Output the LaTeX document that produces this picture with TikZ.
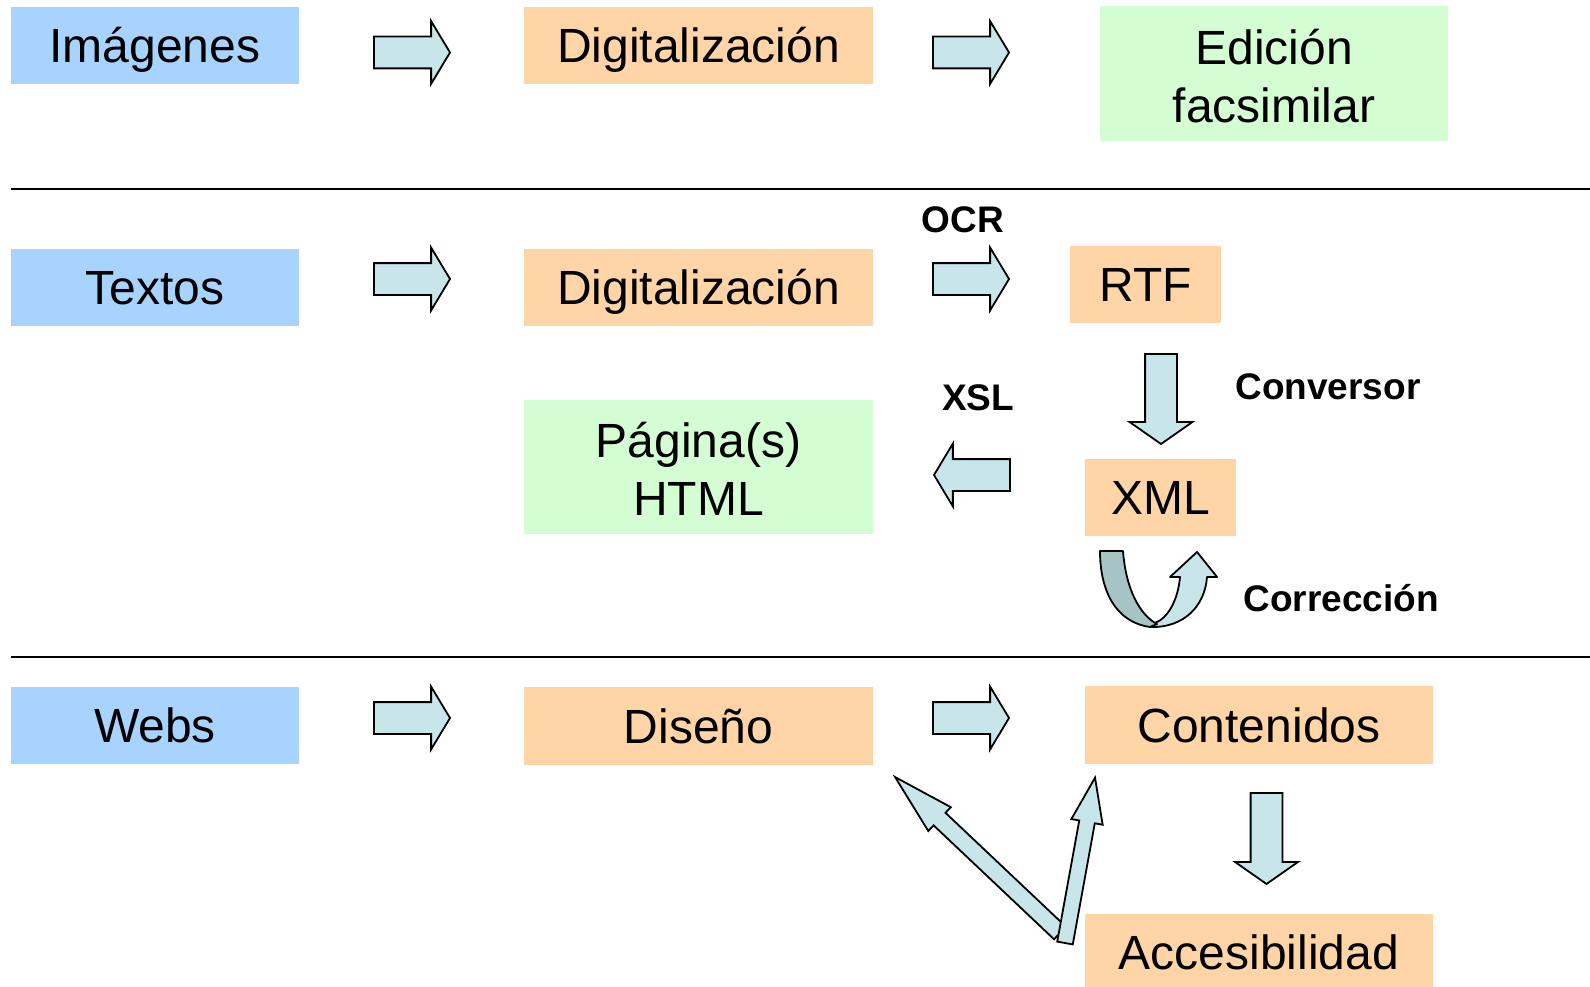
\documentclass[tikz,border=0pt]{standalone}
\usepackage{fontspec}
\setmainfont{Liberation Sans}
\usetikzlibrary{shapes.arrows}
\definecolor{azul}{RGB}{168,211,255}
\definecolor{naranja}{RGB}{255,212,166}
\definecolor{verde}{RGB}{212,253,212}
\definecolor{flecha}{RGB}{200,230,234}
\definecolor{flechaosc}{RGB}{166,195,198}
% renglon con altura de mayuscula y sin profundidad
\newcommand{\renglon}[1]{\raisebox{0pt}[.716em][0pt]{#1}}
\newcommand{\primerrenglon}[1]{\raisebox{0pt}[\dimexpr.716em+5pt\relax][0pt]{#1}}
\tikzset{
caja/.style={minimum height=77pt, inner sep=0pt, align=center,
	font=\fontsize{48}{58}\selectfont},
fuente/.style={caja, fill=azul, minimum width=288pt},
proceso/.style={caja, fill=naranja},
salida/.style={caja, fill=verde, minimum width=349pt, minimum height=134pt},
flechabloque/.style={single arrow, draw, fill=flecha, line width=1.8pt,
	inner xsep=0pt, inner ysep=15pt, outer sep=0pt,
	single arrow head extend=15.5pt, single arrow tip angle=118,
	minimum height=76pt, anchor=tail},
etiqueta/.style={font=\fontsize{37}{42}\selectfont\bfseries}
}

\begin{document}
\begin{tikzpicture}[x=1pt, y=-1pt]
	\useasboundingbox (0,0) rectangle (1590,987);
	% imagenes
	\node[fuente] (img) at (155,45.5) {\renglon{Imágenes}};
	\node[proceso, minimum width=349pt] (dig1) at (698.5,45.5) {\renglon{Digitalización}};
	\node[salida, minimum width=348pt, minimum height=135pt] (edi) at (1274,73.5) {\primerrenglon{Edición}\\\renglon{facsimilar}};
	\node[flechabloque] (f1) at (374,52.5) {};
	\node[flechabloque] (f2) at (933,52.5) {};
	\draw[line width=1.5pt] (11,189) -- (1590,189);
	% textos
	\node[fuente] (tex) at (155,287.5) {\renglon{Textos}};
	\node[proceso, minimum width=349pt] (dig2) at (698.5,287.5) {\renglon{Digitalización}};
	\node[proceso, minimum width=151pt] (rtf) at (1145.5,284.5) {\renglon{RTF}};
	\node[salida] (pag) at (698.5,467) {\primerrenglon{Página(s)}\\\renglon{HTML}};
	\node[proceso, minimum width=151pt] (xml) at (1160.5,497.5) {\renglon{XML}};
	\node[flechabloque] (f3) at (374,279) {};
	\node[flechabloque] (f4) at (933,279) {};
	\node[flechabloque, rotate=180] (f5) at (1010,475) {};
	\node[flechabloque, rotate=-90, minimum height=90pt, single arrow tip angle=110] (f6) at (1161,354) {};
	\node[etiqueta] (ocr) at (963,220) {OCR};
	\node[etiqueta] (xsl) at (978,398) {XSL};
	\node[etiqueta] (conv) at (1328,387) {Conversor};
	\node[etiqueta] (corr) at (1341,598) {Corrección};
	% flecha en U
	\draw[line width=1.8pt, fill=flecha, line join=round]
		(1150,627) .. controls (1185,628) and (1205,605) .. (1207,577)
		-- (1217,577) -- (1197,552) -- (1170,577) -- (1180,577)
		.. controls (1178,600) and (1168,618) .. (1155,623) -- cycle;
	\draw[line width=1.8pt, fill=flechaosc, line join=round]
		(1100,551) -- (1123,551) .. controls (1126,590) and (1140,615) .. (1157,624)
		-- (1150,627) .. controls (1115,622) and (1100,590) .. cycle;
	\draw[line width=1.5pt] (11,657) -- (1590,657);
	% webs
	\node[fuente] (web) at (155,725) {\renglon{Webs}};
	\node[proceso, minimum width=349pt, minimum height=78pt] (dis) at (698.5,726) {\renglon{Diseño}};
	\node[proceso, minimum width=348pt, minimum height=78pt] (con) at (1259,725) {\renglon{Contenidos}};
	\node[proceso, minimum width=348pt] (acc) at (1259,952.5) {\renglon{Accesibilidad}};
	\node[flechabloque] (f8) at (374,718) {};
	\node[flechabloque] (f9) at (933,718) {};
	\node[flechabloque, rotate=-90, minimum height=91pt, single arrow tip angle=110] (f7) at (1266.5,793) {};
	\node[flechabloque, inner ysep=7.75pt, single arrow head extend=7.75pt,
		single arrow tip angle=30, minimum height=227pt, rotate=136.6] (f10) at (1060,933) {};
	\node[flechabloque, inner ysep=7pt, single arrow head extend=8pt,
		single arrow tip angle=39, minimum height=168pt, rotate=79.7] (f11) at (1065,943) {};
\end{tikzpicture}
\end{document}
